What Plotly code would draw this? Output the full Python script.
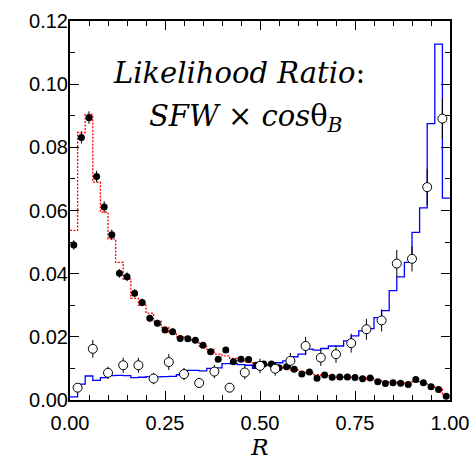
import numpy as np
import plotly.graph_objects as go

# ---- data ----
bin_edges = np.round(np.arange(51) * 0.02, 2)          # 50 bins of width 0.02
fine_centers = np.round(bin_edges[:-1] + 0.01, 3)       # filled-dot positions
coarse_centers = np.round(np.arange(25) * 0.04 + 0.02, 3)  # open-circle positions

# red dashed histogram (signal MC)
red_hist = [0.0537, 0.0847, 0.0904, 0.0690, 0.0595, 0.0510, 0.0436, 0.0383, 0.0322, 0.0300,
            0.0275, 0.0250, 0.0230, 0.0215, 0.0200, 0.0195, 0.0185, 0.0170, 0.0160, 0.0145,
            0.0140, 0.0132, 0.0125, 0.0120, 0.0118, 0.0112, 0.0110, 0.0105, 0.0100, 0.0095,
            0.0090, 0.0085, 0.0080, 0.0077, 0.0074, 0.0073, 0.0072, 0.0071, 0.0069, 0.0067,
            0.0062, 0.0058, 0.0056, 0.0054, 0.0052, 0.0058, 0.0054, 0.0045, 0.0035, 0.0015]

# blue solid histogram (background MC)
blue_hist = [0.0010, 0.0050, 0.0076, 0.0062, 0.0071, 0.0077, 0.0078, 0.0077, 0.0071, 0.0072,
             0.0074, 0.0073, 0.0074, 0.0075, 0.0080, 0.0094, 0.0094, 0.0092, 0.0100, 0.0102,
             0.0115, 0.0116, 0.0112, 0.0110, 0.0100, 0.0112, 0.0112, 0.0118, 0.0124, 0.0137,
             0.0145, 0.0161, 0.0158, 0.0163, 0.0171, 0.0171, 0.0187, 0.0203, 0.0219, 0.0226,
             0.0261, 0.0283, 0.0346, 0.0390, 0.0436, 0.0531, 0.0608, 0.0875, 0.1127, 0.0639]

# filled dots (control sample)
filled_vals = [0.0491, 0.0831, 0.0894, 0.0708, 0.0611, 0.0523, 0.0401, 0.0390, 0.0338, 0.0309,
               0.0259, 0.0243, 0.0222, 0.0216, 0.0195, 0.0194, 0.0189, 0.0173, 0.0153, 0.0129,
               0.0158, 0.0121, 0.0129, 0.0128, 0.0110, 0.0114, 0.0114, 0.0102, 0.0105, 0.0097,
               0.0082, 0.0089, 0.0069, 0.0079, 0.0072, 0.0073, 0.0073, 0.0071, 0.0067, 0.0070,
               0.0058, 0.0052, 0.0055, 0.0053, 0.0049, 0.0065, 0.0055, 0.0042, 0.0033, 0.0012]
filled_errs = [0.0015, 0.0019, 0.0020, 0.0018, 0.0018, 0.0017, 0.0014, 0.0014, 0.0013, 0.0012,
               0.0011, 0.0011, 0.0010, 0.0010, 0.0009, 0.0009, 0.0009, 0.0009, 0.0008, 0.0008,
               0.0008, 0.0008, 0.0008, 0.0008, 0.0007, 0.0007, 0.0007, 0.0007, 0.0007, 0.0007,
               0.0006, 0.0006, 0.0006, 0.0006, 0.0006, 0.0006, 0.0006, 0.0006, 0.0006, 0.0006,
               0.0005, 0.0005, 0.0005, 0.0005, 0.0005, 0.0005, 0.0005, 0.0005, 0.0004, 0.0003]

# open circles (data)
open_vals = [0.0039, 0.0162, 0.0086, 0.0110, 0.0110, 0.0068, 0.0120, 0.0082, 0.0054, 0.0090,
             0.0039, 0.0087, 0.0108, 0.0099, 0.0124, 0.0171, 0.0134, 0.0145, 0.0180, 0.0224,
             0.0252, 0.0432, 0.0447, 0.0674, 0.0891]
open_errs = [0.0014, 0.0028, 0.0020, 0.0024, 0.0024, 0.0018, 0.0025, 0.0020, 0.0016, 0.0021,
             0.0014, 0.0021, 0.0023, 0.0022, 0.0025, 0.0029, 0.0026, 0.0027, 0.0030, 0.0033,
             0.0035, 0.0043, 0.0040, 0.0058, 0.0063]

x_tickvals = [0.0, 0.25, 0.5, 0.75, 1.0]
x_ticklabels = ["0.00", "0.25", "0.50", "0.75", "1.00"]
y_tickvals = [0.0, 0.02, 0.04, 0.06, 0.08, 0.10, 0.12]
y_ticklabels = ["0.00", "0.02", "0.04", "0.06", "0.08", "0.10", "0.12"]

SANS = "Liberation Sans"
SERIF = "DejaVu Serif"

# ---- figure ----
fig = go.Figure()

fig.add_trace(go.Scatter(
    x=list(bin_edges), y=red_hist + [red_hist[-1]], mode="lines", line_shape="hv",
    line=dict(color="#ff0000", width=1.3, dash="2px,1.5px"), hoverinfo="skip"))

fig.add_trace(go.Scatter(
    x=list(bin_edges), y=blue_hist + [blue_hist[-1]], mode="lines", line_shape="hv",
    line=dict(color="#0000ff", width=1.3), hoverinfo="skip"))

fig.add_trace(go.Scatter(
    x=fine_centers, y=filled_vals, mode="markers",
    marker=dict(symbol="circle", size=7, color="black"),
    error_y=dict(type="data", array=filled_errs, color="black", thickness=1, width=0)))

fig.add_trace(go.Scatter(
    x=coarse_centers, y=open_vals, mode="markers",
    marker=dict(symbol="circle", size=9, color="white", line=dict(color="black", width=1)),
    error_y=dict(type="data", array=open_errs, color="black", thickness=1, width=0)))

axis_common = dict(
    showline=True, linecolor="black", linewidth=2, mirror="allticks",
    ticks="inside", ticklen=9, tickwidth=1, tickcolor="black",
    showgrid=False, zeroline=False, automargin=False,
    ticklabeloverflow="allow",
    tickfont=dict(family=SANS, size=20, color="black"),
)

fig.update_xaxes(
    range=[0, 1], tickvals=x_tickvals, ticktext=x_ticklabels,
    ticklabelstandoff=4,
    minor=dict(ticks="inside", ticklen=5, dtick=0.05, tickcolor="black", tickwidth=1, showgrid=False),
    title=dict(text="<i>R</i>", font=dict(family=SERIF, size=23, color="black"), standoff=0),
    **axis_common)
fig.update_yaxes(
    range=[0, 0.12], tickvals=y_tickvals, ticktext=y_ticklabels,
    ticklabelstandoff=-4,
    minor=dict(ticks="inside", ticklen=5, dtick=0.01, tickcolor="black", tickwidth=1, showgrid=False),
    **axis_common)

fig.add_annotation(
    x=0.446, y=0.1035, xref="x", yref="y", showarrow=False,
    text="<i>Likelihood Ratio</i>:",
    font=dict(family=SERIF, size=29, color="black"))
fig.add_annotation(
    x=0.462, y=0.0892, xref="x", yref="y", showarrow=False,
    text="<i>SFW</i> × <i>cos</i>θ<sub><i>B</i></sub>",
    font=dict(family=SERIF, size=29, color="black"))

fig.update_layout(
    width=469, height=460,
    margin=dict(l=70, r=19, t=21, b=60),
    plot_bgcolor="white", paper_bgcolor="white",
    showlegend=False,
)

fig.write_html("out.html")
